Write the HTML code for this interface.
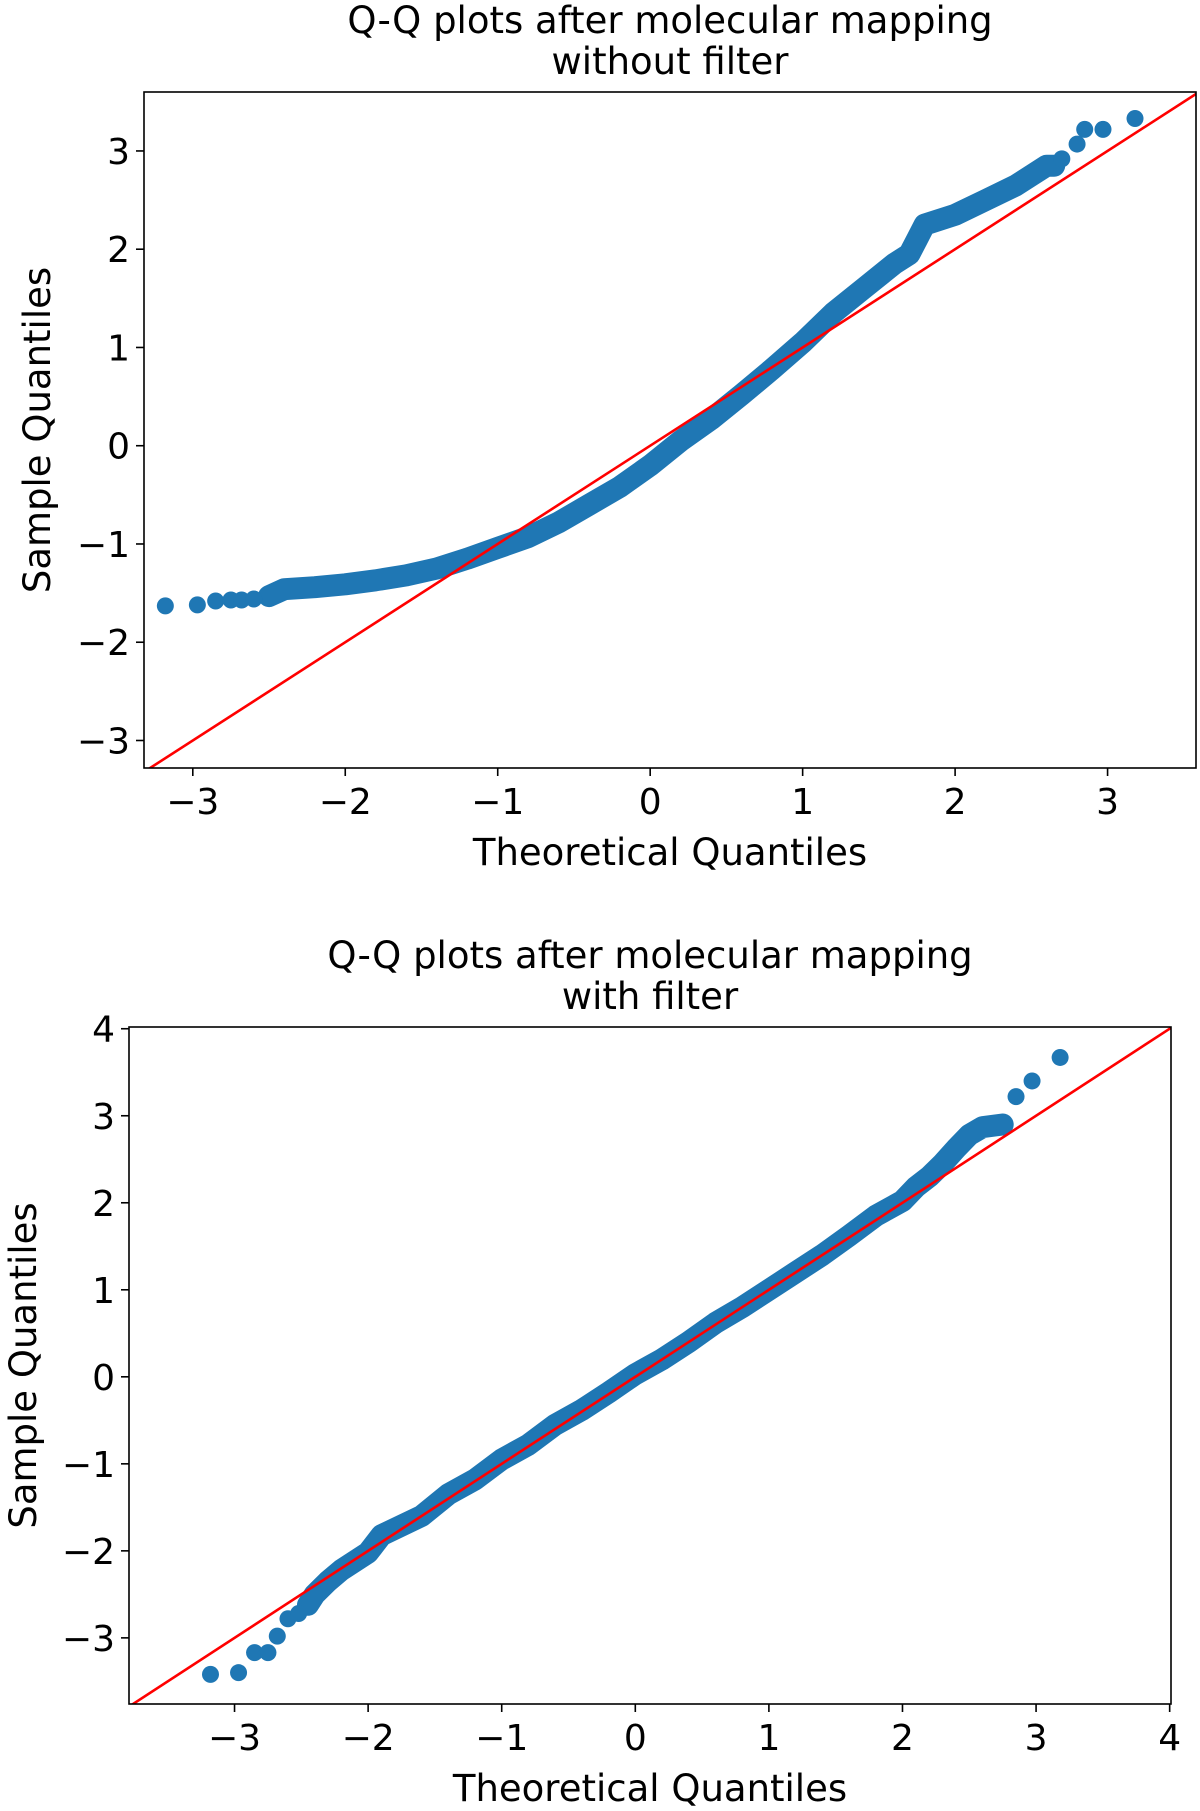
<!DOCTYPE html>
<html><head><meta charset="utf-8">
<style>
html,body{margin:0;padding:0;background:#fff;}
svg text{font-family:"DejaVu Sans","Liberation Sans",sans-serif;fill:#000;}
</style></head>
<body>
<svg id="chart" width="1200" height="1806" viewBox="0 0 1200 1806" xmlns="http://www.w3.org/2000/svg"></svg>
<script>
// ---- Plot 1 data (without filter) ----
const p1BandX = [-2.5,-2.4,-2.2,-2.0,-1.8,-1.6,-1.4,-1.2,-1.0,-0.8,-0.6,-0.4,-0.2,0,0.2,0.4,0.6,0.8,1.0,1.2,1.4,1.6,1.7,1.75,1.8,2.0,2.2,2.4,2.5,2.6,2.65];
const p1BandY = [-1.53,-1.46,-1.44,-1.41,-1.37,-1.32,-1.25,-1.15,-1.04,-0.93,-0.78,-0.6,-0.42,-0.2,0.05,0.27,0.52,0.78,1.05,1.35,1.6,1.85,1.95,2.1,2.25,2.35,2.5,2.65,2.75,2.85,2.85];
const p1DotX = [-3.18,-2.97,-2.85,-2.75,-2.68,-2.6,2.7,2.8,2.85,2.97,3.18];
const p1DotY = [-1.63,-1.62,-1.58,-1.57,-1.57,-1.56,2.92,3.07,3.22,3.22,3.33];
const p1XTicks = [-3,-2,-1,0,1,2,3];
const p1YTicks = [-3,-2,-1,0,1,2,3];
// ---- Plot 2 data (with filter) ----
const p2BandX = [-2.45,-2.4,-2.3,-2.2,-2.0,-1.9,-1.6,-1.4,-1.2,-1.0,-0.8,-0.6,-0.4,-0.2,0,0.2,0.4,0.6,0.8,1.0,1.2,1.4,1.6,1.8,2.0,2.1,2.2,2.3,2.4,2.5,2.6,2.75];
const p2BandY = [-2.62,-2.5,-2.35,-2.22,-2.02,-1.82,-1.6,-1.35,-1.18,-0.95,-0.78,-0.55,-0.38,-0.18,0.03,0.2,0.4,0.62,0.8,1.0,1.2,1.4,1.62,1.85,2.02,2.18,2.3,2.45,2.62,2.78,2.87,2.9];
const p2DotX = [-3.18,-2.97,-2.85,-2.75,-2.68,-2.6,-2.52,2.85,2.97,3.18];
const p2DotY = [-3.42,-3.4,-3.17,-3.17,-2.98,-2.78,-2.72,3.22,3.4,3.67];
const p2XTicks = [-3,-2,-1,0,1,2,3,4];
const p2YTicks = [-3,-2,-1,0,1,2,3,4];

const NS = "http://www.w3.org/2000/svg";
const svg = document.getElementById('chart');
function mk(tag, attrs, parent){
  const e = document.createElementNS(NS, tag);
  for (const k in attrs) e.setAttribute(k, attrs[k]);
  (parent||svg).appendChild(e);
  return e;
}
function fmt(v){ return v<0 ? '\u2212'+Math.abs(v) : String(v); }

function drawPlot(cfg){
  const g = mk('g', {});
  
  
  const sx = v => cfg.L + (v - cfg.x0)/(cfg.x1 - cfg.x0)*(cfg.R - cfg.L);
  const sy = v => cfg.B - (v - cfg.y0)/(cfg.y1 - cfg.y0)*(cfg.B - cfg.T);
  const cid = cfg.name + '-clip';
  const cp = mk('clipPath', {id: cid}, g);
  mk('rect', {x: cfg.L, y: cfg.T, width: cfg.R-cfg.L, height: cfg.B-cfg.T}, cp);
  const plotArea = mk('g', {'clip-path': 'url(#'+cid+')'}, g);
  let d = '';
  cfg.bx.forEach((v,i)=>{ d += (i?'L':'M') + sx(v).toFixed(1) + ' ' + sy(cfg.by[i]).toFixed(1); });
  const band = mk('path', {d: d, fill: 'none', stroke: '#1f77b4', 'stroke-width': 22, 'stroke-linecap': 'round', 'stroke-linejoin': 'round'}, plotArea);
  
  
  cfg.dx.forEach((v,i)=>{
    const c = mk('circle', {cx: sx(v), cy: sy(cfg.dy[i]), r: 8.5, fill: '#1f77b4'}, plotArea);
    
    
  });
  const lo = Math.min(cfg.x0, cfg.y0) - 1, hi = Math.max(cfg.x1, cfg.y1) + 1;
  const ln = mk('line', {x1: sx(lo), y1: sy(lo), x2: sx(hi), y2: sy(hi), stroke: '#ff0000', 'stroke-width': 2.6}, plotArea);
  
  
  const fr = mk('rect', {x: cfg.L, y: cfg.T, width: cfg.R-cfg.L, height: cfg.B-cfg.T, fill: 'none', stroke: '#000', 'stroke-width': 1.6}, g);
  
  
  cfg.xt.forEach(v=>{
    const x = sx(v);
    mk('line', {x1: x, y1: cfg.B, x2: x, y2: cfg.B+8, stroke: '#000', 'stroke-width': 1.6}, g);
    const t = mk('text', {x: x, y: cfg.B+46, 'text-anchor': 'middle', 'font-size': 36}, g);
    t.textContent = fmt(v);
    
    
  });
  cfg.yt.forEach(v=>{
    const y = sy(v);
    mk('line', {x1: cfg.L-8, y1: y, x2: cfg.L, y2: y, stroke: '#000', 'stroke-width': 1.6}, g);
    const t = mk('text', {x: cfg.L-14, y: y+13, 'text-anchor': 'end', 'font-size': 36}, g);
    t.textContent = fmt(v);
    
    
  });
  const cx = (cfg.L + cfg.R)/2;
  const t1 = mk('text', {x: cx, y: cfg.titleY, 'text-anchor': 'middle', 'font-size': 37}, g);
  t1.textContent = 'Q-Q plots after molecular mapping';
  
  
  const t2 = mk('text', {x: cx, y: cfg.titleY + 41, 'text-anchor': 'middle', 'font-size': 37}, g);
  t2.textContent = cfg.sub;
  
  
  const xl = mk('text', {x: cx, y: cfg.B + 97, 'text-anchor': 'middle', 'font-size': 37}, g);
  xl.textContent = 'Theoretical Quantiles';
  
  
  const ym = (cfg.T + cfg.B)/2;
  const yl = mk('text', {x: 0, y: 0, 'text-anchor': 'middle', 'font-size': 37, transform: 'translate(' + cfg.ylx + ',' + ym + ') rotate(-90)'}, g);
  yl.textContent = 'Sample Quantiles';
  
  
}

drawPlot({name:'qq-plot-without-filter', L:144, R:1196, T:92, B:768, x0:-3.32, x1:3.58, y0:-3.28, y1:3.6,
  bx:p1BandX, by:p1BandY, dx:p1DotX, dy:p1DotY, xt:p1XTicks, yt:p1YTicks,
  titleY:33, sub:'without filter', ylx:50});
drawPlot({name:'qq-plot-with-filter', L:129, R:1171, T:1027, B:1704, x0:-3.79, x1:4.01, y0:-3.76, y1:4.02,
  bx:p2BandX, by:p2BandY, dx:p2DotX, dy:p2DotY, xt:p2XTicks, yt:p2YTicks,
  titleY:968, sub:'with filter', ylx:36});
</script>
</body></html>
